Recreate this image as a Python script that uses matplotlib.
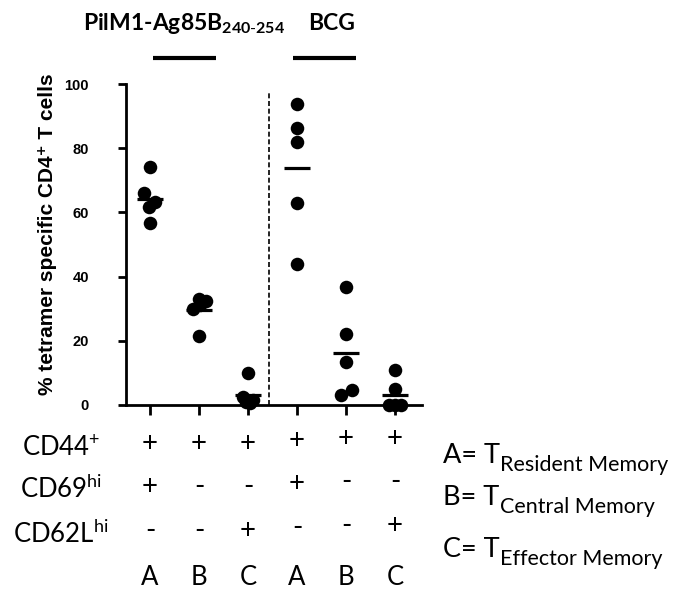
import numpy as np
import matplotlib
matplotlib.use("Agg")
import matplotlib.pyplot as plt
import matplotlib.transforms as mtransforms

plt.rcParams['mathtext.fontset'] = 'custom'
plt.rcParams['mathtext.rm'] = 'Lato'
plt.rcParams['mathtext.bf'] = 'Lato:bold'

# data (% tetramer specific CD4+ T cells)
positions = [1, 2, 3, 4, 5, 6]
pilm1_A = [74.0, 65.9, 63.1, 61.8, 56.8]
pilm1_B = [33.0, 32.5, 30.0, 31.0, 21.5]
pilm1_C = [10.0, 2.5, 1.5, 1.0, 0.5]
bcg_A = [93.8, 86.2, 82.0, 62.8, 43.8]
bcg_B = [36.9, 22.1, 13.5, 3.1, 4.7]
bcg_C = [10.9, 4.9, 0.0, 0.0, 0.0]
groups = [pilm1_A, pilm1_B, pilm1_C, bcg_A, bcg_B, bcg_C]
# sideways spread of the dots so they don't sit on top of each other
jitter = [[0, -0.12, 0.10, -0.02, 0],
          [0, 0.14, -0.13, 0.02, 0],
          [0, -0.10, 0.10, -0.04, 0.05],
          [0, 0, 0, 0, 0],
          [0, 0, 0, -0.11, 0.13],
          [0, 0, -0.13, 0, 0.13]]

yticks = [0, 20, 40, 60, 80, 100]
cd44 = ['+', '+', '+', '+', '+', '+']
cd69 = ['+', '-', '-', '+', '-', '-']
cd62l = ['-', '-', '+', '-', '-', '+']
subsets = ['A', 'B', 'C', 'A', 'B', 'C']
row_names = [r'CD44$^{+}$', r'CD69$^{\mathrm{hi}}$', r'CD62L$^{\mathrm{hi}}$']
legend_main = ['A= T', 'B= T', 'C= T']
legend_sub = ['Resident Memory', 'Central Memory', 'Effector Memory']

W, H = 677, 589
fig = plt.figure(figsize=(W / 100, H / 100), dpi=100)

def fx(px):
    return px / W

def fy(py):
    return 1 - py / H

ax = fig.add_axes([fx(126), fy(405), fx(422) - fx(126), fy(84) - fy(405)])

for i, vals in enumerate(groups):
    xs = positions[i] + np.array(jitter[i])
    ax.scatter(xs, vals, s=95, color='black', zorder=3, clip_on=False, linewidths=0)
    m = np.mean(vals)
    ax.hlines(m, positions[i] - 0.26, positions[i] + 0.26, color='black', lw=2.3, zorder=4)

# separator between the two vaccine groups
ax.axvline(3.42, ymin=0, ymax=0.975, color='black', lw=1.2, ls=(0, (3, 1.6)))

ax.set_xlim(0.51, 6.55)
ax.set_ylim(0, 100)
ax.set_xticks(positions)
ax.set_xticklabels([])
ax.set_yticks(yticks)
ax.set_yticklabels([str(t) for t in yticks], fontfamily='Liberation Sans',
                   fontweight='bold', fontsize=10.5)
ax.tick_params(axis='y', length=5.8, width=2, pad=21)
ax.tick_params(axis='x', length=7, width=2)
for s in ['top', 'right']:
    ax.spines[s].set_visible(False)
for s in ['left', 'bottom']:
    ax.spines[s].set_linewidth(2)

fig.text(fx(48), fy(234), '% tetramer specific CD4⁺ T cells', rotation=90,
         ha='center', va='center', fontsize=15, fontweight='bold',
         family=['Liberation Sans', 'DejaVu Sans'])

# group headers and bars
fig.text(fx(83), fy(30), r'PilM1-Ag85B$_{\mathbf{240\text{-}254}}$', ha='left', va='baseline',
         fontsize=16.5, fontweight='bold', fontfamily='Lato')
fig.text(fx(308), fy(30), 'BCG', ha='left', va='baseline',
         fontsize=16.5, fontweight='bold', fontfamily='Lato')
ax.plot([1.06, 2.35], [108.1, 108.1], color='black', lw=3, clip_on=False, solid_capstyle='butt')
ax.plot([3.92, 5.20], [108.1, 108.1], color='black', lw=3, clip_on=False, solid_capstyle='butt')

# marker table under the axis
tr = mtransforms.blended_transform_factory(ax.transData, fig.transFigure)
rows = [cd44, cd69, cd62l]
row_base = [452, 495, 539]
col_shift = [0, 0, 0, 3, 5, 5]
for r, signs in enumerate(rows):
    for i, sgn in enumerate(signs):
        ax.text(positions[i], fy(row_base[r] - col_shift[i]), sgn, transform=tr,
                ha='center', va='baseline', fontsize=20, fontfamily='Lato')
for i, lab in enumerate(subsets):
    ax.text(positions[i], fy(585), lab, transform=tr, ha='center', va='baseline',
            fontsize=18.5, fontfamily='Lato')

label_base = [455, 498, 543]
for r, name in enumerate(row_names):
    fig.text(fx(61), fy(label_base[r]), name, ha='center', va='baseline',
             fontsize=18.5, fontfamily='Lato')

legend_base = [463, 505, 557]
for r in range(3):
    fig.text(fx(443), fy(legend_base[r]), legend_main[r], ha='left', va='baseline',
             fontsize=19.5, fontfamily='Lato')
    fig.text(fx(500), fy(legend_base[r] + 8), legend_sub[r], ha='left', va='baseline',
             fontsize=15.5, fontfamily='Lato')

fig.savefig('out.png', dpi=100)
